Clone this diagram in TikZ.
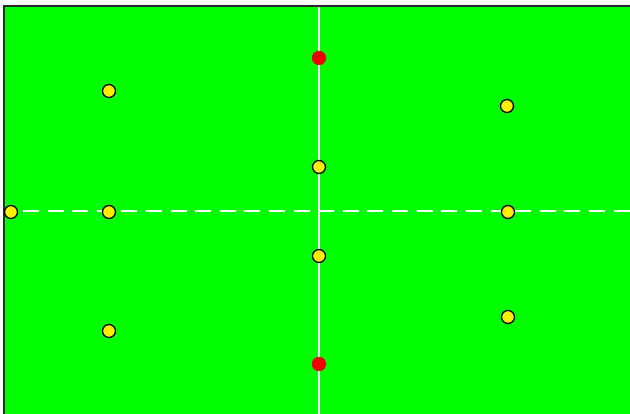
\documentclass[tikz,border=0pt]{standalone}
\usetikzlibrary{positioning}
\definecolor{fieldgreen}{RGB}{0,255,0}
\definecolor{dotyellow}{RGB}{255,240,0}
\definecolor{dotred}{RGB}{240,0,0}
\definecolor{edgegrey}{RGB}{40,40,40}

\begin{document}
\begin{tikzpicture}[
  x=0.03cm, y=-0.03cm,
  player/.style={circle, draw=black, fill=dotyellow, line width=1.1pt, minimum size=0.39cm, inner sep=0pt},
  keeper/.style={circle, fill=dotred, minimum size=0.43cm, inner sep=0pt},
  midline/.style={white, line width=1.2pt},
  halfline/.style={white, line width=1.2pt, dash pattern=on 13.66pt off 7.34pt, dash phase=5.6pt}
]

\useasboundingbox (0,0) rectangle (630,414);
\fill[fieldgreen] (4,6) rectangle (630,414);
\draw[edgegrey, line width=1.5pt] (4,414) -- (4,6) -- (630,6);

% field lines
\coordinate (top) at (319,7);
\coordinate (bottom) at (319,414);
\coordinate (left) at (5,211);
\coordinate (right) at (630,211);
\draw[midline] (top) -- (bottom);
\draw[halfline] (left) -- (right);

% red
\node[keeper] (r1) at (319,58) {};
\node[keeper] (r2) at (319,364) {};

% yellow
\node[player] (y1) at (109,91) {};
\node[player] (y2) at (507,106) {};
\node[player] (y3) at (319,167) {};
\node[player] (y4) at (11,212) {};
\node[player] (y5) at (109,212) {};
\node[player] (y6) at (508,212) {};
\node[player] (y7) at (319,256) {};
\node[player] (y8) at (109,331) {};
\node[player] (y9) at (508,317) {};

\end{tikzpicture}
\end{document}
